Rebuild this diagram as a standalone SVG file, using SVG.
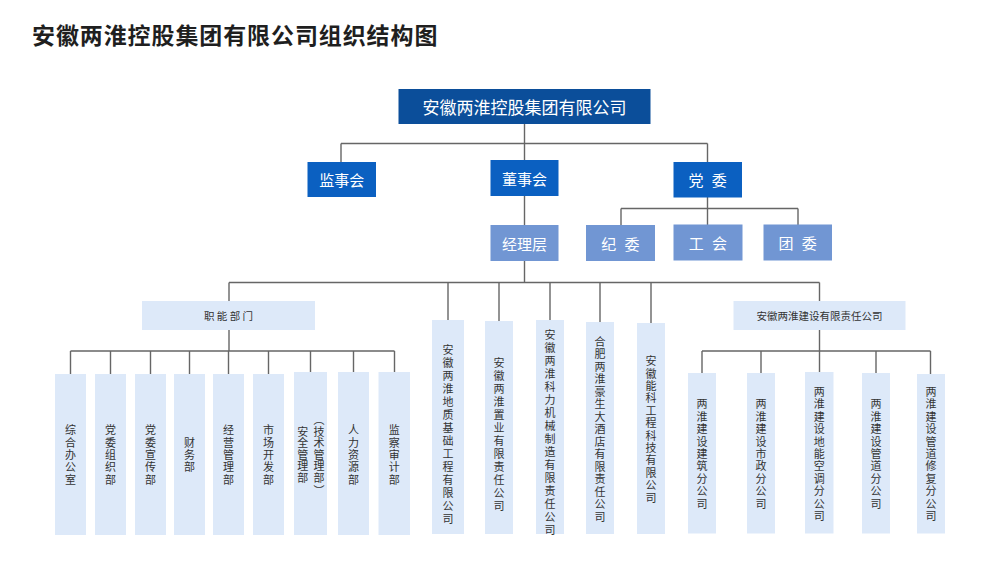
<svg xmlns="http://www.w3.org/2000/svg" width="1000" height="562" viewBox="0 0 1000 562">
<style>
text{font-family:"Noto Sans CJK SC","Noto Sans",sans-serif;dominant-baseline:central}
.title{font-size:23px;font-weight:700;fill:#1f1f1f;letter-spacing:0.9px}
.top{fill:#0b4e9a}
.l2{fill:#0b60c1}
.l3{fill:#7196d3}
.lt{fill:#dde9f9}
.wt{fill:#fff;text-anchor:middle}
.t17{font-size:17px}
.t15{font-size:15px}
.dt{fill:#333;text-anchor:middle;font-size:10.5px}
.v{fill:#333;text-anchor:middle;font-size:11px}
.conn path{fill:none;stroke:#666;stroke-width:1.4}
</style>
<rect width="1000" height="562" fill="#fff"/>
<text class="title" x="32" y="33.5">安徽两淮控股集团有限公司组织结构图</text>

<g class="conn" id="connectors">
<path d="M524.5,124V160"/>
<path d="M341,143.5H707.5"/>
<path d="M341,143.5V162M707.5,143.5V162"/>
<path d="M524.5,196V225"/>
<path d="M707.5,197V208.5M621,208.5H798M621,208.5V225M707.5,208.5V225M798,208.5V225"/>
<path d="M524.5,261V282.5M229,282.5H819.5"/>
<path d="M229,282.5V301M448,282.5V320M499,282.5V321M550,282.5V320M600,282.5V322M651,282.5V323M819.5,282.5V301"/>
<path d="M229,330V351M70.5,351H394.5"/>
<path d="M70.5,351V374M110.5,351V374M150.5,351V374M189.5,351V374M228.5,351V374M268.5,351V374M310.5,351V372M353.5,351V372M394.5,351V372"/>
<path d="M819.5,330V351M702,351H930.5"/>
<path d="M702,351V373M761,351V373M819.5,351V372M876,351V373M930.5,351V374"/>
</g>

<g id="n-group">
<rect class="top" x="398.5" y="89" width="252" height="35"/>
<text class="wt t17" x="524.5" y="106.5">安徽两淮控股集团有限公司</text>
</g>
<g id="n-jianshihui">
<rect class="l2" x="307.5" y="162" width="68.5" height="35"/>
<text class="wt t15" x="341.7" y="179.5">监事会</text>
</g>
<g id="n-dongshihui">
<rect class="l2" x="490.5" y="160" width="68" height="36"/>
<text class="wt t15" x="524.5" y="178">董事会</text>
</g>
<g id="n-dangwei">
<rect class="l2" x="673.5" y="162" width="68.5" height="35.5"/>
<text class="wt t15" x="707.7" y="179.5" xml:space="preserve" letter-spacing="2.5" dx="1.2">党 委</text>
</g>
<g id="n-jinglice">
<rect class="l3" x="490.5" y="225" width="68" height="36"/>
<text class="wt t15" x="524.5" y="243">经理层</text>
</g>
<g id="n-jiwei">
<rect class="l3" x="586" y="225" width="69" height="36"/>
<text class="wt t15" x="620.5" y="243" xml:space="preserve" letter-spacing="2.5" dx="1.2">纪 委</text>
</g>
<g id="n-gonghui">
<rect class="l3" x="673.5" y="224.5" width="69" height="36"/>
<text class="wt t15" x="708" y="242.5" xml:space="preserve" letter-spacing="2.5" dx="1.2">工 会</text>
</g>
<g id="n-tuanwei">
<rect class="l3" x="763.5" y="224.5" width="68.5" height="36"/>
<text class="wt t15" x="797.7" y="242.5" xml:space="preserve" letter-spacing="2.5" dx="1.2">团 委</text>
</g>

<g id="n-zhineng">
<rect class="lt" x="142" y="301" width="173" height="29"/>
<text class="dt" x="228.5" y="315.5" xml:space="preserve">职 能 部 门</text>
</g>
<g id="n-jianshe">
<rect class="lt" x="733.5" y="301" width="172" height="29"/>
<text class="dt" x="819.5" y="315.5">安徽两淮建设有限责任公司</text>
</g>

<g id="n-zonghe">
<rect class="lt" x="55" y="374" width="31" height="161"/>
<text class="v" x="70.5 70.5 70.5 70.5 70.5" y="429.2 441.6 454 466.4 478.8">综合办公室</text>
</g>
<g id="n-dangzu">
<rect class="lt" x="95" y="374" width="31" height="161"/>
<text class="v" x="110.5 110.5 110.5 110.5 110.5" y="429.2 441.6 454 466.4 478.8">党委组织部</text>
</g>
<g id="n-dangxuan">
<rect class="lt" x="135" y="374" width="31" height="161"/>
<text class="v" x="150.5 150.5 150.5 150.5 150.5" y="429.2 441.6 454 466.4 478.8">党委宣传部</text>
</g>
<g id="n-caiwu">
<rect class="lt" x="174" y="374" width="31" height="161"/>
<text class="v" x="189.5 189.5 189.5" y="441.6 454 466.4">财务部</text>
</g>
<g id="n-jingying">
<rect class="lt" x="213" y="374" width="31" height="161"/>
<text class="v" x="228.5 228.5 228.5 228.5 228.5" y="429.2 441.6 454 466.4 478.8">经营管理部</text>
</g>
<g id="n-shichang">
<rect class="lt" x="253" y="374" width="31" height="161"/>
<text class="v" x="268.5 268.5 268.5 268.5 268.5" y="429.2 441.6 454 466.4 478.8">市场开发部</text>
</g>
<g id="n-anquan">
<rect class="lt" x="294" y="372" width="33" height="163"/>
<text class="v" x="319 319 319 319 319 319 319" y="418.5 430.7 442.2 453.7 465.2 476.7 490">︵技术管理部︶</text>
<text class="v" x="302.7 302.7 302.7 302.7 302.7" y="430.7 442.2 453.7 465.2 476.7">安全管理部</text>
</g>
<g id="n-renli">
<rect class="lt" x="338" y="372" width="31" height="163"/>
<text class="v" x="353.5 353.5 353.5 353.5 353.5" y="429.2 441.6 454 466.4 478.8">人力资源部</text>
</g>
<g id="n-jiancha">
<rect class="lt" x="378.5" y="372" width="31.5" height="163"/>
<text class="v" x="394.3 394.3 394.3 394.3 394.3" y="429.2 441.6 454 466.4 478.8">监察审计部</text>
</g>

<g id="n-dizhi">
<rect class="lt" x="432" y="320" width="32" height="214"/>
<text class="v" x="448 448 448 448 448 448 448 448 448 448 448 448 448 448" y="348.5 361.5 374.5 387.5 400.5 413.5 426.5 439.5 452.5 465.5 478.5 491.5 504.5 517.5">安徽两淮地质基础工程有限公司</text>
</g>
<g id="n-zhiye">
<rect class="lt" x="485" y="321" width="28" height="213"/>
<text class="v" x="499 499 499 499 499 499 499 499 499 499 499 499" y="361.5 374.5 387.5 400.5 413.5 426.5 439.5 452.5 465.5 478.5 491.5 504.5">安徽两淮置业有限责任公司</text>
</g>
<g id="n-keli">
<rect class="lt" x="536" y="320" width="28" height="214"/>
<text class="v" x="550 550 550 550 550 550 550 550 550 550 550 550 550 550 550 550" y="334.2 347.2 360.2 373.2 386.2 399.2 412.2 425.2 438.2 451.2 464.2 477.2 490.2 503.2 516.2 529.2">安徽两淮科力机械制造有限责任公司</text>
</g>
<g id="n-haosheng">
<rect class="lt" x="586" y="322" width="28" height="212"/>
<text class="v" x="600 600 600 600 600 600 600 600 600 600 600 600 600 600 600" y="340.5 353 365.5 378 390.5 403 415.5 428 440.5 453 465.5 478 490.5 503 515.5">合肥两淮豪生大酒店有限责任公司</text>
</g>
<g id="n-nengke">
<rect class="lt" x="637" y="323" width="28" height="211"/>
<text class="v" x="651 651 651 651 651 651 651 651 651 651 651 651" y="360.1 372.5 384.9 397.3 409.7 422.1 434.5 446.9 459.3 471.7 484.1 496.5">安徽能科工程科技有限公司</text>
</g>

<g id="n-jianzhu">
<rect class="lt" x="688" y="373" width="28" height="160.5"/>
<text class="v" x="702 702 702 702 702 702 702 702 702" y="403.4 415.8 428.2 440.6 453 465.4 477.8 490.2 502.6">两淮建设建筑分公司</text>
</g>
<g id="n-shizheng">
<rect class="lt" x="747" y="373" width="28" height="160.5"/>
<text class="v" x="761 761 761 761 761 761 761 761 761" y="403.4 415.8 428.2 440.6 453 465.4 477.8 490.2 502.6">两淮建设市政分公司</text>
</g>
<g id="n-dineng">
<rect class="lt" x="805" y="372" width="28.5" height="161.5"/>
<text class="v" x="819.3 819.3 819.3 819.3 819.3 819.3 819.3 819.3 819.3 819.3 819.3" y="391 403.4 415.8 428.2 440.6 453 465.4 477.8 490.2 502.6 515">两淮建设地能空调分公司</text>
</g>
<g id="n-guandao">
<rect class="lt" x="862" y="373" width="28" height="160.5"/>
<text class="v" x="876 876 876 876 876 876 876 876 876" y="403.4 415.8 428.2 440.6 453 465.4 477.8 490.2 502.6">两淮建设管道分公司</text>
</g>
<g id="n-xiufu">
<rect class="lt" x="917" y="374" width="28" height="159.5"/>
<text class="v" x="931 931 931 931 931 931 931 931 931 931 931" y="391 403.4 415.8 428.2 440.6 453 465.4 477.8 490.2 502.6 515">两淮建设管道修复分公司</text>
</g>
</svg>
